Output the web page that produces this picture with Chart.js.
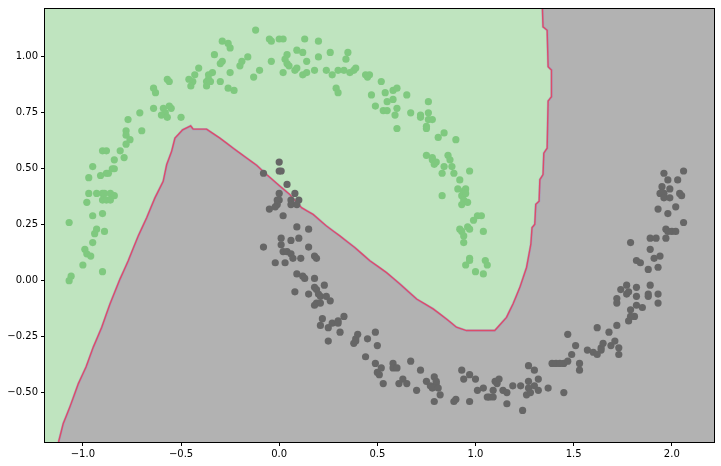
<!DOCTYPE html>
<html>
<head>
<meta charset="utf-8">
<script src="https://cdn.jsdelivr.net/npm/chart.js@4"></script>
<style>
  body { margin: 0; background: #ffffff; }
  canvas { display: block; }
</style>
</head>
<body>
<canvas id="moonsChart" width="721" height="466"></canvas>
<script>
// axis limits and ticks
const xMin = -1.193, xMax = 2.215;
const yMin = -0.721, yMax = 1.214;
const xTicks = [-1.0, -0.5, 0.0, 0.5, 1.0, 1.5, 2.0];
const yTicks = [-0.5, -0.25, 0.0, 0.25, 0.5, 0.75, 1.0];

// class 0 (upper moon)
const greenPoints = [
  [-0.12,1.12],[-0.05,1.08],[-0.04,1.07],[0.00,1.08],[0.02,1.08],[0.09,1.03],[0.04,1.01],
  [0.03,0.99],[0.04,0.97],[0.05,0.96],[0.02,0.93],[0.08,0.94],[0.09,0.95],[-0.04,0.98],
  [-0.10,0.94],[-0.13,0.91],[-0.16,1.00],[-0.19,0.98],[-0.20,0.96],[-0.25,0.93],[-0.29,1.07],
  [-0.26,1.06],[-0.25,1.04],[-0.33,1.01],[-0.29,0.98],[-0.30,0.97],[-0.26,0.86],[-0.23,0.85],
  [-0.30,0.89],[-0.34,0.93],[-0.36,0.92],[-0.36,0.90],[-0.37,0.89],[-0.37,0.87],[-0.35,0.89],
  [-0.41,0.95],[-0.43,0.92],[-0.44,0.89],[-0.45,0.87],[-0.46,0.90],[-0.57,0.90],[-0.56,0.89],
  [-0.64,0.86],[-0.63,0.84],[-0.64,0.77],[-0.59,0.77],[-0.58,0.75],[-0.56,0.78],[-0.55,0.77],
  [-0.60,0.74],[-0.57,0.73],[-0.50,0.73],[-0.71,0.75],[-0.77,0.72],[-0.70,0.67],[-0.78,0.67],
  [-0.78,0.65],[-0.76,0.63],[-0.78,0.61],[-0.81,0.58],[-0.79,0.55],[-0.84,0.54],[-0.90,0.58],
  [-0.88,0.58],[-0.84,0.50],[-0.85,0.50],[-0.88,0.48],[-0.87,0.48],[-0.91,0.47],[-0.95,0.51],
  [-0.97,0.46],[-0.97,0.39],[-0.93,0.39],[-0.90,0.39],[-0.89,0.39],[-0.86,0.39],[-0.84,0.38],
  [-0.90,0.36],[-0.88,0.36],[-0.86,0.36],[-0.98,0.35],[-0.95,0.29],[-0.90,0.30],[-1.07,0.26],
  [-0.93,0.23],[-0.94,0.21],[-0.89,0.22],[-0.95,0.17],[-0.99,0.14],[-0.98,0.12],[-0.96,0.11],
  [-1.00,0.07],[-0.90,0.04],[-1.06,0.02],[-1.07,0.00],
  [0.13,1.08],[0.20,1.07],[0.12,1.02],[0.20,1.00],[0.14,0.98],[0.26,1.02],[0.35,1.02],
  [0.34,0.99],[0.12,0.92],[0.14,0.93],[0.18,0.94],[0.24,0.94],[0.27,0.92],[0.30,0.94],
  [0.33,0.94],[0.36,0.93],[0.38,0.94],[0.39,0.95],[0.44,0.92],[0.46,0.92],[0.45,0.91],
  [0.52,0.89],[0.29,0.86],[0.30,0.84],[0.47,0.83],[0.54,0.84],[0.58,0.85],[0.60,0.86],
  [0.65,0.83],[0.58,0.81],[0.55,0.80],[0.49,0.78],[0.60,0.77],[0.53,0.76],[0.55,0.76],
  [0.59,0.74],[0.67,0.75],[0.76,0.80],[0.76,0.75],[0.72,0.74],[0.72,0.73],[0.76,0.72],
  [0.78,0.72],[0.75,0.69],[0.75,0.68],[0.60,0.68],[0.84,0.66],[0.81,0.64],[0.90,0.63],
  [0.75,0.56],[0.78,0.55],[0.78,0.54],[0.80,0.53],[0.79,0.52],[0.86,0.56],[0.87,0.54],
  [0.84,0.51],[0.88,0.51],[0.83,0.48],[0.89,0.48],[0.97,0.49],[0.92,0.45],[0.91,0.41],
  [0.94,0.40],[0.95,0.41],[0.94,0.39],[0.93,0.38],[0.95,0.39],[0.83,0.38],[0.94,0.36],
  [0.96,0.35],[0.93,0.34],[1.01,0.29],[1.03,0.29],[0.99,0.27],[0.92,0.23],[0.93,0.22],
  [0.96,0.24],[0.97,0.23],[1.04,0.22],[0.94,0.20],[0.94,0.17],[0.97,0.10],[0.97,0.09],
  [0.95,0.07],[1.05,0.09],[1.06,0.07],[1.00,0.04],[1.04,0.03]
];

// class 1 (lower moon)
const grayPoints = [
  [0.00,0.53],[0.00,0.49],[0.01,0.49],[-0.08,0.48],[0.04,0.43],[0.00,0.39],[0.08,0.39],
  [-0.01,0.36],[0.00,0.36],[-0.01,0.34],[0.06,0.36],[0.06,0.34],[0.10,0.36],[0.09,0.34],
  [-0.05,0.32],[-0.02,0.33],[0.02,0.29],[0.09,0.24],[0.15,0.23],[0.01,0.19],[0.10,0.19],
  [0.06,0.18],[0.01,0.16],[-0.08,0.15],[0.15,0.15],[0.02,0.13],[0.04,0.13],[0.06,0.12],
  [0.07,0.10],[0.11,0.10],[0.18,0.11],[0.19,0.10],[-0.02,0.08],[0.03,0.08],[0.09,0.03],
  [0.12,0.02],[0.13,0.01],[0.18,0.01],[0.08,-0.05],[0.15,-0.06],[0.18,-0.03],[0.19,-0.04],
  [0.20,-0.06],[0.21,-0.07],[0.19,-0.10],[0.18,-0.11],[0.21,-0.10],[0.23,-0.02],[0.26,-0.09],
  [0.24,-0.07],[0.22,-0.17],[0.21,-0.20],[0.25,-0.21],[0.27,-0.19],[0.30,-0.18],[0.30,-0.19],
  [0.33,-0.16],[0.31,-0.23],[0.25,-0.27],[0.40,-0.24],[0.39,-0.26],[0.38,-0.28],[0.39,-0.27],
  [0.45,-0.26],
  [0.49,-0.23],[0.50,-0.29],[0.44,-0.34],[0.49,-0.37],[0.50,-0.41],[0.51,-0.42],[0.52,-0.39],
  [0.53,-0.46],[0.58,-0.37],[0.58,-0.39],[0.60,-0.39],[0.63,-0.44],[0.61,-0.46],[0.65,-0.46],
  [0.67,-0.36],[0.72,-0.40],[0.70,-0.49],[0.75,-0.45],[0.77,-0.47],[0.79,-0.43],[0.80,-0.46],
  [0.78,-0.48],[0.81,-0.48],[0.80,-0.45],[0.82,-0.51],[0.79,-0.54],[0.90,-0.53],[0.89,-0.54],
  [0.93,-0.40],[0.97,-0.42],[0.94,-0.44],[1.00,-0.44],[0.97,-0.54],[1.01,-0.49],[1.04,-0.48],
  [1.06,-0.52],[1.07,-0.52],[1.09,-0.52],[1.09,-0.49],[1.10,-0.45],[1.11,-0.46],[1.12,-0.44],
  [1.14,-0.49],[1.16,-0.50],[1.16,-0.55],[1.19,-0.47],[1.23,-0.47],[1.24,-0.58],[1.27,-0.45],
  [1.27,-0.48],[1.26,-0.51],[1.28,-0.50],[1.30,-0.47],[1.32,-0.44],[1.32,-0.49],[1.27,-0.38],
  [1.30,-0.40],[1.37,-0.48],[1.39,-0.37],[1.41,-0.37],
  [1.43,-0.37],[1.45,-0.37],[1.47,-0.36],[1.53,-0.37],[1.53,-0.40],[1.45,-0.50],[1.47,-0.24],
  [1.62,-0.21],[1.72,-0.20],[1.68,-0.23],[1.51,-0.29],[1.49,-0.33],[1.57,-0.31],[1.60,-0.32],
  [1.64,-0.30],[1.65,-0.28],[1.64,-0.31],[1.69,-0.29],[1.71,-0.27],[1.73,-0.30],[1.73,-0.33],
  [1.62,-0.33],[1.74,-0.04],[1.77,-0.02],[1.82,-0.03],[1.89,-0.02],[1.72,-0.08],[1.72,-0.10],
  [1.77,-0.06],[1.78,-0.05],[1.82,-0.07],[1.88,-0.06],[1.88,-0.07],[1.93,-0.06],[1.93,-0.10],
  [1.82,-0.11],[1.85,-0.12],[1.79,-0.13],[1.81,-0.16],[1.79,-0.16],[1.78,-0.18],
  [1.96,0.48],[2.06,0.49],[1.98,0.45],[2.03,0.45],[1.95,0.42],[1.99,0.41],[1.96,0.39],
  [1.94,0.39],[1.96,0.37],[1.99,0.37],[2.04,0.39],[2.05,0.38],[2.02,0.33],[1.93,0.32],
  [1.98,0.30],[2.06,0.26],[1.97,0.23],[1.98,0.22],[2.00,0.22],[2.02,0.22],[1.97,0.19],
  [1.89,0.19],[1.92,0.19],[1.79,0.17],[1.89,0.14],[1.94,0.11],[1.91,0.10],[1.82,0.09],
  [1.84,0.08],[1.93,0.06],[1.88,0.05]
];

// decision boundary, bottom-left to top
const boundary = [
  [-1.124,-0.721],[-1.100,-0.638],[-1.066,-0.564],[-1.023,-0.460],[-0.984,-0.386],
  [-0.947,-0.297],[-0.904,-0.208],[-0.862,-0.104],[-0.811,0.007],[-0.769,0.089],
  [-0.718,0.200],[-0.675,0.281],[-0.633,0.370],[-0.591,0.444],[-0.573,0.519],
  [-0.548,0.578],[-0.531,0.637],[-0.492,0.674],[-0.451,0.692],[-0.438,0.677],
  [-0.370,0.677],[-0.302,0.637],[-0.234,0.592],[-0.166,0.548],[-0.115,0.516],
  [-0.064,0.474],[0.000,0.425],[0.054,0.385],[0.114,0.326],[0.173,0.296],
  [0.241,0.244],[0.309,0.200],[0.385,0.148],[0.462,0.089],[0.547,0.036],
  [0.615,-0.015],[0.700,-0.082],[0.784,-0.126],[0.852,-0.171],[0.903,-0.208],
  [0.954,-0.223],[1.098,-0.223],[1.158,-0.164],[1.191,-0.104],[1.226,-0.030],
  [1.260,0.059],[1.282,0.163],[1.288,0.237],[1.302,0.252],[1.307,0.341],
  [1.324,0.355],[1.328,0.452],[1.344,0.474],[1.348,0.570],[1.365,0.592],
  [1.370,0.803],[1.387,0.822],[1.387,0.941],[1.370,0.956],[1.365,1.119],
  [1.344,1.134],[1.341,1.215]
];

const toXY = (p) => ({ x: p[0], y: p[1] });
const boundaryData = boundary.map(toXY);
// green region: left strip + everything above the boundary, closed along the top edge.
// last point sits at the right limit so the filler never meets its end bound early
const regionData = [{ x: xMin, y: yMin }]
  .concat(boundaryData)
  .concat([{ x: xMax, y: yMax }]);

const fmtTick = (v, d) => v.toFixed(d).replace("-", "\u2212");

// gray class background + black frame round the plot
const frame = {
  id: "frame",
  beforeDatasetsDraw(chart) {
    const a = chart.chartArea;
    chart.ctx.save();
    chart.ctx.fillStyle = "#b2b2b2";
    chart.ctx.fillRect(a.left, a.top, a.right - a.left, a.bottom - a.top);
    chart.ctx.restore();
  },
  afterDraw(chart) {
    const a = chart.chartArea;
    const ctx = chart.ctx;
    ctx.save();
    ctx.strokeStyle = "#000000";
    ctx.lineWidth = 1;
    ctx.strokeRect(a.left - 0.5, a.top - 0.5, a.right - a.left + 1, a.bottom - a.top + 1);
    ctx.restore();
  },
};

// tiny tension keeps Chart.js off its "fast path", which assumes x only grows
const almostStraight = 0.0001;

const ctx = document.getElementById("moonsChart").getContext("2d");
new Chart(ctx, {
  type: "scatter",
  data: {
    datasets: [
      {
        type: "line",
        data: regionData,
        fill: "end",
        backgroundColor: "#bfe4bf",
        borderColor: "rgba(0,0,0,0)",
        borderWidth: 0,
        pointRadius: 0,
        tension: almostStraight,
        order: 5,
      },
      {
        type: "line",
        data: boundaryData,
        fill: false,
        borderColor: "rgba(150, 125, 205, 0.45)",
        borderWidth: 2.4,
        pointRadius: 0,
        tension: almostStraight,
        order: 4,
      },
      {
        type: "line",
        data: boundaryData,
        fill: false,
        borderColor: "#dc4d68",
        borderWidth: 1.4,
        pointRadius: 0,
        tension: almostStraight,
        order: 3,
      },
      {
        data: greenPoints.map(toXY),
        backgroundColor: "#7fc97f",
        borderWidth: 0,
        pointRadius: 3.6,
        order: 2,
      },
      {
        data: grayPoints.map(toXY),
        backgroundColor: "#666666",
        borderWidth: 0,
        pointRadius: 3.6,
        order: 1,
      },
    ],
  },
  options: {
    responsive: false,
    animation: false,
    layout: { padding: { top: 7, right: 7, left: 0, bottom: 0 } },
    plugins: {
      legend: { display: false },
      tooltip: { enabled: false },
    },
    scales: {
      x: {
        type: "linear",
        min: xMin,
        max: xMax,
        afterBuildTicks: (scale) => {
          scale.ticks = xTicks.map((v) => ({ value: v }));
        },
        afterFit: (scale) => {
          scale.height = 24;
        },
        border: { display: false },
        grid: { drawOnChartArea: false, drawTicks: true, tickLength: 4, color: "#000000" },
        ticks: {
          color: "#000000",
          padding: 2,
          maxRotation: 0,
          font: { family: "DejaVu Sans", size: 10 },
          callback: (v) => fmtTick(v, 1),
        },
      },
      y: {
        type: "linear",
        min: yMin,
        max: yMax,
        afterBuildTicks: (scale) => {
          scale.ticks = yTicks.map((v) => ({ value: v }));
        },
        afterFit: (scale) => {
          scale.width = 45;
        },
        border: { display: false },
        grid: { drawOnChartArea: false, drawTicks: true, tickLength: 4, color: "#000000" },
        ticks: {
          color: "#000000",
          padding: 3,
          font: { family: "DejaVu Sans", size: 10 },
          callback: (v) => fmtTick(v, 2),
        },
      },
    },
  },
  plugins: [frame],
});
</script>
</body>
</html>
